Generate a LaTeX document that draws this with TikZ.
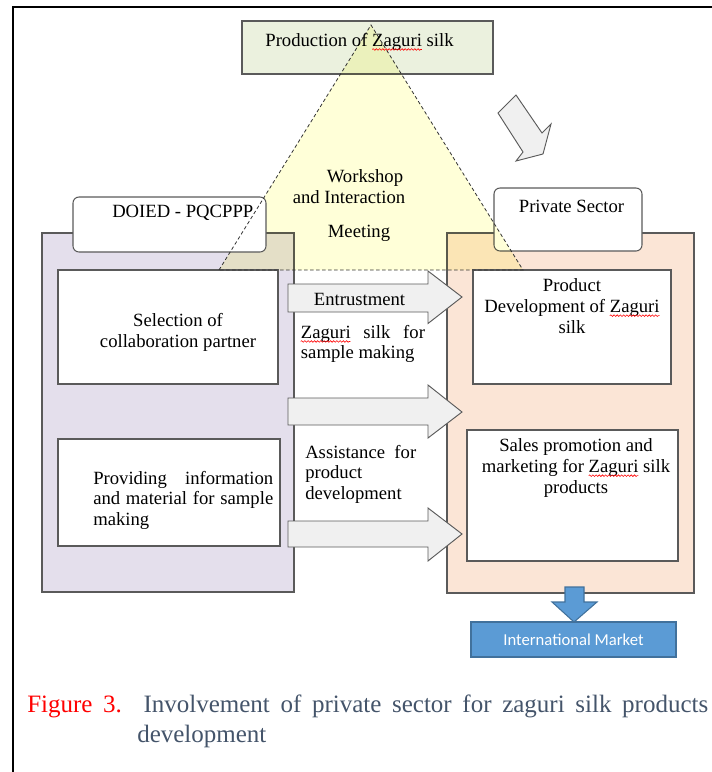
\documentclass[tikz,border=0pt]{standalone}
\usepackage{fontspec}
\setmainfont{Liberation Serif}
\newfontfamily\calibri{Carlito}
\usetikzlibrary{fit,decorations.pathmorphing}

\definecolor{olivebox}{HTML}{EBF1DE}
\definecolor{lilac}{HTML}{E4DFEC}
\definecolor{peach}{HTML}{FBE5D6}
\definecolor{paleyellow}{HTML}{FFFFD8}
\definecolor{arrowfill}{HTML}{F0F0F0}
\definecolor{edgegray}{HTML}{5A5A5A}
\definecolor{mblue}{HTML}{5B9BD5}
\definecolor{bluedge}{HTML}{41719C}
\definecolor{captext}{HTML}{44546A}

\newcommand\bodyfont{\fontsize{14}{15.6}\selectfont}
\newlength\wZag
\newlength\wProdAll
\newlength\wProdPre
\newlength\wDev
\newlength\wMkt
\newlength\wMktPre

\tikzset{
  boxfit/.style={draw=edgegray, line width=0.8pt, inner sep=0pt},
  roundbox/.style={boxfit, fill=white, rounded corners=4.5pt},
  blockarrow/.style={draw=edgegray, line width=0.7pt, fill=arrowfill, line join=miter},
  txt/.style={inner sep=0pt, font=\bodyfont},
  dashline/.style={draw=black!80, line width=0.6pt, dash pattern=on 2.6pt off 1.9pt},
  spellwave/.style={draw=red, line width=0.45pt, decorate,
    decoration={snake, amplitude=0.6pt, segment length=2.4pt}},
}

\begin{document}
\tolerance=10000
\hbadness=10000
\hyphenpenalty=10000
\exhyphenpenalty=10000
\settowidth\wZag{\bodyfont Zaguri}
\settowidth\wProdAll{\bodyfont Production of Zaguri silk}
\settowidth\wProdPre{\bodyfont Production of\ }
\settowidth\wDev{\bodyfont Development of Zaguri}
\settowidth\wMkt{\bodyfont marketing for Zaguri silk}
\settowidth\wMktPre{\bodyfont marketing for\ }
\begin{tikzpicture}[x=0.75pt, y=-0.75pt]
\useasboundingbox (0,0) rectangle (712,772);

% page frame
\coordinate (ftl) at (13,7);
\coordinate (ftr) at (712,7);
\coordinate (fbl) at (13,772);
\draw[line width=1.1pt] (12,7) -- (ftr);
\draw[line width=1.9pt] (ftl) -- (fbl);

% top box
\node[boxfit, fill=olivebox, fit={(242,21)(493,74)}] (prod) {};

% the two panels
\node[boxfit, fill=lilac, fit={(42,233)(294,592)}] (lpanel) {};
\node[boxfit, fill=peach, fit={(447,233)(694,593)}] (rpanel) {};

% private sector tab
\node[roundbox, fit={(494,188)(642,251)}] (priv) {};

% meeting triangle (tinted)
\coordinate (apex) at (371,25);
\coordinate (bl) at (219,270);
\coordinate (br) at (523,270);
\begin{scope}[blend mode=multiply]
  \fill[paleyellow] (apex) -- (bl) -- (br) -- cycle;
\end{scope}

% DOIED tab
\node[roundbox, fit={(73,197)(266,252)}] (doied) {};

% inner boxes
\node[boxfit, fill=white, fit={(58,270)(278,384)}] (sel) {};
\node[boxfit, fill=white, fit={(58,439)(280,546)}] (prov) {};
\node[boxfit, fill=white, fit={(473,270)(671,384)}] (pdev) {};
\node[boxfit, fill=white, fit={(467,430)(678,561)}] (sales) {};

% block arrows between the panels
\draw[blockarrow] (288,284) -- (428,284) -- (428,271) -- (462,297) -- (428,323.5) -- (428,312) -- (288,312) -- cycle;
\draw[blockarrow] (288,398) -- (428,398) -- (428,385) -- (462,412) -- (428,438) -- (428,425) -- (288,425) -- cycle;
\draw[blockarrow] (288,521) -- (428,521) -- (428,508) -- (462,534) -- (428,561) -- (428,547) -- (288,547) -- cycle;

% diagonal arrow towards the private sector
\draw[blockarrow] (498,113) -- (516,95) -- (542,133) -- (551,124) -- (543,154) -- (516,161) -- (523,152) -- cycle;

% triangle outline
\draw[dashline] (bl) -- (apex) -- (br) -- cycle;

% international market
\draw[draw=bluedge, line width=0.8pt, fill=mblue, line join=miter]
  (565,587) -- (584,587) -- (584,602) -- (597,602) -- (574,622) -- (552,602) -- (565,602) -- cycle;
\node[draw=bluedge, line width=0.8pt, fill=mblue, minimum width=153.75pt, minimum height=26.25pt,
      inner sep=0pt, text=white, font=\calibri\fontsize{12.5}{14}\selectfont] (intl) at (573.5,639.5) {International Market};

% texts (centred multi-line nodes are placed by their last baseline)
\node[txt, anchor=base] (tprod) at (359.5,46) {Production of Zaguri silk};
\node[txt, anchor=base] (tw1) at (365,182) {Workshop};
\node[txt, anchor=base] (tw2) at (349,203) {and Interaction};
\node[txt, anchor=base] (tw3) at (359,237) {Meeting};
\node[txt, anchor=base west] (tdoied) at (112,217) {DOIED - PQCPPP};
\node[txt, anchor=base] (tpriv) at (571.5,212) {Private Sector};
\node[txt, anchor=base, align=center] (tsel) at (178,347) {Selection of\\collaboration partner};
\node[txt, anchor=base west, text width=135pt, align=justify] (tprov) at (93,484)
  {Providing information and material for sample making};
\node[txt, anchor=base] (tent) at (359.5,305) {Entrustment};
\node[txt, anchor=base west, text width=93pt, align=justify] (tzag) at (300.7,338)
  {Zaguri silk for\linebreak sample making};
\node[txt, anchor=base west, text width=83.25pt, align=justify] (tassist) at (305,458)
  {Assistance for\linebreak product\\development};
\node[txt, anchor=base, align=center] (tpdev) at (572,333) {Product\\Development of Zaguri\\silk};
\node[txt, anchor=base, align=center] (tsales) at (576,493) {Sales promotion and\\marketing for Zaguri silk\\products};

% spelling squiggles under "Zaguri"
\draw[spellwave] ([xshift=-0.5\wProdAll+\wProdPre, yshift=-2.6pt]tprod.base) -- ++(\wZag,0);
\draw[spellwave] ([yshift=-2.6pt]tzag.base west) -- ++(\wZag,0);
\draw[spellwave] ([xshift=0.5\wDev-\wZag, yshift=15.6pt-2.6pt]tpdev.base) -- ++(\wZag,0);
\draw[spellwave] ([xshift=-0.5\wMkt+\wMktPre, yshift=15.6pt-2.6pt]tsales.base) -- ++(\wZag,0);

% caption
\node[anchor=base west, inner sep=0pt, text width=510.75pt, align=justify, text=captext,
      font=\fontsize{18.75}{22.5}\selectfont] (caption) at (27,712)
  {{\color{red}Figure 3.} Involvement of private sector for zaguri silk products\linebreak\hspace*{82.5pt}development};
\end{tikzpicture}
\end{document}
